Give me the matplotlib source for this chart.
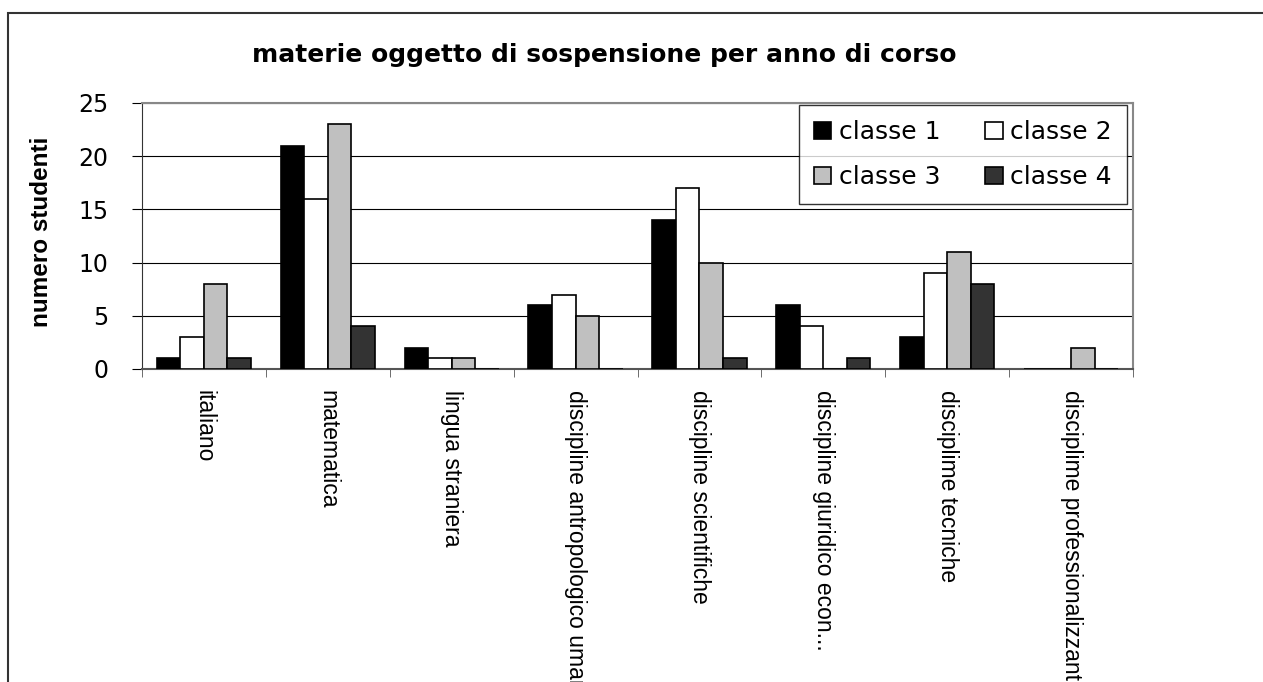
import numpy as np
import matplotlib.pyplot as plt
from matplotlib.patches import Rectangle

categories = ['italiano', 'matematica', 'lingua straniera', 'discipline antropologico umane',
              'discipline scientifiche', 'discipline giuridico econ...', 'disciplime tecniche',
              'disciplime professionalizzanti']
series = ['classe 1', 'classe 2', 'classe 3', 'classe 4']
classe1 = [1, 21, 2, 6, 14, 6, 3, 0]
classe2 = [3, 16, 1, 7, 17, 4, 9, 0]
classe3 = [8, 23, 1, 5, 10, 0, 11, 2]
classe4 = [1, 4, 0, 0, 1, 1, 8, 0]
colors = ['#000000', '#ffffff', '#c0c0c0', '#333333']

plt.rcParams['font.family'] = ['DejaVu Sans']

fig = plt.figure(figsize=(12.63, 6.82), dpi=100)
ax = fig.add_axes([142 / 1263, 1 - 369 / 682, (1133 - 142) / 1263, (369 - 103) / 682])

# outer chart frame (cropped at right and bottom)
fig.patches.append(Rectangle((8 / 1263, -0.05), 1.2, 1 - 13 / 682 + 0.05,
                             transform=fig.transFigure, fill=False,
                             edgecolor='#333333', linewidth=1.5))

x = np.arange(len(categories))
w = 0.19
bars = []
for i, (vals, name) in enumerate(zip([classe1, classe2, classe3, classe4], series)):
    b = ax.bar(x + (i - 1.5) * w, vals, w, color=colors[i], edgecolor='black',
               linewidth=1.2, label=name, zorder=3)
    bars.append(b)

ax.set_xlim(-0.5, len(categories) - 0.5)
ax.set_ylim(0, 25)
ax.set_yticks(range(0, 26, 5))
ax.yaxis.grid(True, color='black', linewidth=0.8)
ax.set_axisbelow(True)

ax.set_xticks(x)
ax.set_xticklabels(categories, rotation=-90, ha='center', va='top',
                   fontsize=16.5, family='Liberation Sans')
ax.set_xticks(np.arange(-0.5, len(categories)), minor=True)
ax.tick_params(axis='x', which='major', length=0, pad=15)
ax.tick_params(axis='x', which='minor', length=6, direction='out', color='#555555')
ax.tick_params(axis='y', length=7, direction='out', labelsize=17, pad=17)

for s in ['top', 'right']:
    ax.spines[s].set_color('#888888')
    ax.spines[s].set_linewidth(1.5)
ax.spines['left'].set_color('#333333')
ax.spines['bottom'].set_color('#555555')
ax.spines['bottom'].set_linewidth(1.5)

ax.set_ylabel('numero studenti', fontsize=17.5, fontweight='bold', family='Liberation Sans')
ax.yaxis.set_label_coords(53 / 1263, 1 - 232 / 682, transform=fig.transFigure)

fig.text(604 / 1263, 1 - 55 / 682, 'materie oggetto di sospensione per anno di corso',
         ha='center', va='center', fontsize=18, fontweight='bold')

# row-major legend order: classe 1, classe 2 / classe 3, classe 4
order = [0, 2, 1, 3]
leg = ax.legend([bars[k] for k in order], [series[k] for k in order], ncol=2,
                loc='upper right', bbox_to_anchor=(1127 / 1263, 1 - 105 / 682),
                bbox_transform=fig.transFigure, frameon=True, fancybox=False,
                prop={'size': 18}, handlelength=0.7, handleheight=0.7,
                handletextpad=0.3, columnspacing=1.8, labelspacing=0.85,
                borderpad=0.6, borderaxespad=0)
leg.get_frame().set_edgecolor('black')
leg.get_frame().set_linewidth(1)

fig.savefig('out.png', dpi=100)
